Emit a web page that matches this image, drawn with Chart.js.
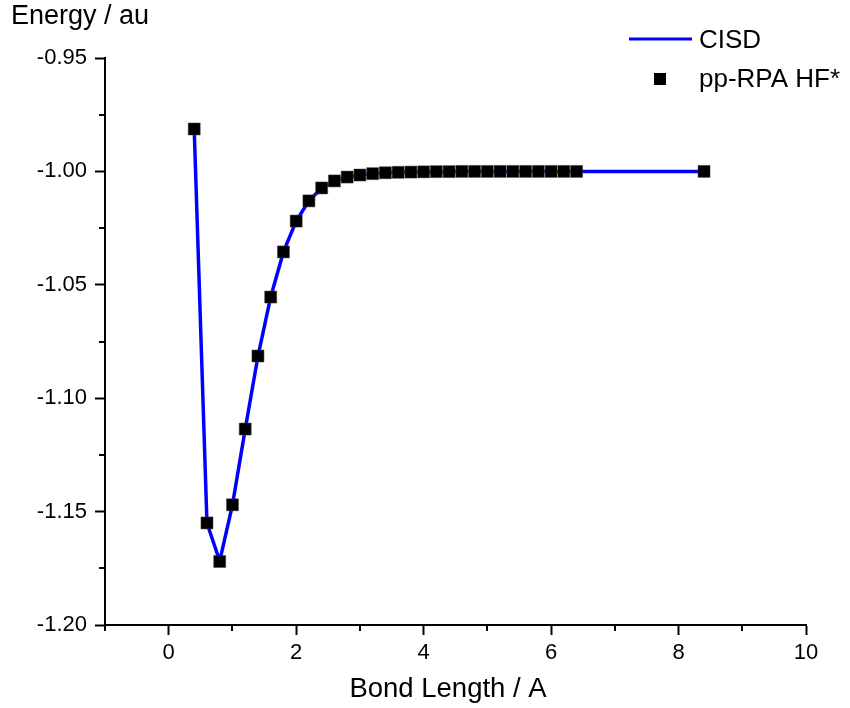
<!DOCTYPE html>
<html>
<head>
<meta charset="utf-8">
<script src="https://cdn.jsdelivr.net/npm/chart.js@4"></script>
<style>
  html, body { margin: 0; padding: 0; background: #fff; }
  #wrap { width: 850px; height: 708px; }
</style>
</head>
<body>
<div id="wrap"><canvas id="plotChart" width="850" height="708"></canvas></div>
<script>
// Bond length (A) and energies (au)
const bondLength = [0.4, 0.6, 0.8, 1.0, 1.2, 1.4, 1.6, 1.8, 2.0, 2.2, 2.4, 2.6, 2.8, 3.0,
  3.2, 3.4, 3.6, 3.8, 4.0, 4.2, 4.4, 4.6, 4.8, 5.0, 5.2, 5.4, 5.6, 5.8, 6.0, 6.2, 6.4, 8.4];
const cisdEnergy = [-0.9815, -1.155, -1.1718, -1.147, -1.1137, -1.0815, -1.0554, -1.0355,
  -1.0219, -1.013, -1.0073, -1.0042, -1.0025, -1.0016, -1.001, -1.0006, -1.0004, -1.0003,
  -1.0002, -1.0001, -1.0001, -1.0, -1.0, -1.0, -1.0, -1.0, -1.0, -1.0, -1.0, -1.0, -1.0, -1.0];
const ppRpaEnergy = [-0.9813, -1.155, -1.172, -1.147, -1.1136, -1.0814, -1.0554, -1.0355,
  -1.0219, -1.013, -1.0073, -1.0042, -1.0025, -1.0016, -1.001, -1.0006, -1.0004, -1.0003,
  -1.0002, -1.0001, -1.0001, -1.0, -1.0, -1.0, -1.0, -1.0, -1.0, -1.0, -1.0, -1.0, -1.0, -1.0];

// axis ticks
const xTicks = [0, 2, 4, 6, 8, 10];
const xMinorTicks = [-1, 1, 3, 5, 7, 9];
const yTicks = [-1.20, -1.15, -1.10, -1.05, -1.00, -0.95];
const yMinorTicks = [-1.175, -1.125, -1.075, -1.025, -0.975];

const FONT = "'Liberation Sans', Arial, sans-serif";

function toPoints(xs, ys) {
  return xs.map((x, i) => ({ x: x, y: ys[i] }));
}

// minor ticks, axis titles and legend
const decorPlugin = {
  id: "decor",
  afterDraw(chart) {
    const c = chart.ctx;
    const xs = chart.scales.x;
    const ys = chart.scales.y;
    const area = chart.chartArea;
    c.save();
    c.strokeStyle = "#000";
    c.lineWidth = 2;
    xMinorTicks.forEach((v) => {
      const px = Math.round(xs.getPixelForValue(v));
      c.beginPath();
      c.moveTo(px, area.bottom);
      c.lineTo(px, area.bottom + 6);
      c.stroke();
    });
    yMinorTicks.forEach((v) => {
      const py = Math.round(ys.getPixelForValue(v));
      c.beginPath();
      c.moveTo(area.left, py);
      c.lineTo(area.left - 6, py);
      c.stroke();
    });

    c.fillStyle = "#000";
    c.font = "27px " + FONT;
    c.textBaseline = "alphabetic";
    c.textAlign = "left";
    c.fillText("Energy / au", 11, 24);
    c.font = "27.5px " + FONT;
    c.textAlign = "center";
    c.fillText("Bond Length / A", 448, 697);

    // legend
    const ds = chart.data.datasets;
    c.font = "26px " + FONT;
    c.textAlign = "left";
    c.strokeStyle = "#0000ff";
    c.lineWidth = 3;
    c.beginPath();
    c.moveTo(629, 39);
    c.lineTo(692, 39);
    c.stroke();
    c.fillText(ds[1].label, 699, 48);
    c.fillStyle = "#000";
    c.fillRect(654, 73, 12, 12);
    c.fillText(ds[0].label, 699, 87);
    c.restore();
  },
};

const ctx = document.getElementById("plotChart").getContext("2d");
const plotChart = new Chart(ctx, {
  type: "scatter",
  data: {
    datasets: [
      {
        label: "pp-RPA HF*",
        data: toPoints(bondLength, ppRpaEnergy),
        showLine: false,
        pointStyle: "rect",
        pointRadius: 8.5,
        pointBackgroundColor: "#000",
        pointBorderColor: "#444",
        pointBorderWidth: 0.5,
        order: 0,
      },
      {
        label: "CISD",
        data: toPoints(bondLength, cisdEnergy),
        showLine: true,
        borderColor: "#0000ff",
        borderWidth: 3.5,
        pointRadius: 0,
        tension: 0,
        order: 1,
      },
    ],
  },
  options: {
    responsive: false,
    animation: false,
    layout: {
      padding: { left: 0, top: 58, right: 44, bottom: 0 },
    },
    plugins: {
      legend: { display: false },
      tooltip: { enabled: false },
    },
    scales: {
      x: {
        type: "linear",
        min: -1,
        max: 10,
        afterBuildTicks: (scale) => {
          scale.ticks = xTicks.map((v) => ({ value: v }));
        },
        afterFit: (scale) => {
          scale.height = 83;
        },
        grid: { drawOnChartArea: false, drawTicks: true, tickLength: 10, tickWidth: 2, color: "#000" },
        border: { display: true, color: "#000", width: 2 },
        ticks: {
          color: "#000",
          font: { family: FONT, size: 22 },
          padding: 5,
          maxRotation: 0,
          callback: (v) => String(v),
        },
      },
      y: {
        type: "linear",
        min: -1.2,
        max: -0.95,
        afterBuildTicks: (scale) => {
          scale.ticks = yTicks.map((v) => ({ value: v }));
        },
        afterFit: (scale) => {
          scale.width = 105;
        },
        grid: { drawOnChartArea: false, drawTicks: true, tickLength: 10, tickWidth: 2, color: "#000" },
        border: { display: true, color: "#000", width: 2 },
        ticks: {
          color: "#000",
          font: { family: FONT, size: 22 },
          padding: 8,
          callback: (v) => Number(v).toFixed(2),
        },
      },
    },
  },
  plugins: [decorPlugin],
});
</script>
</body>
</html>
